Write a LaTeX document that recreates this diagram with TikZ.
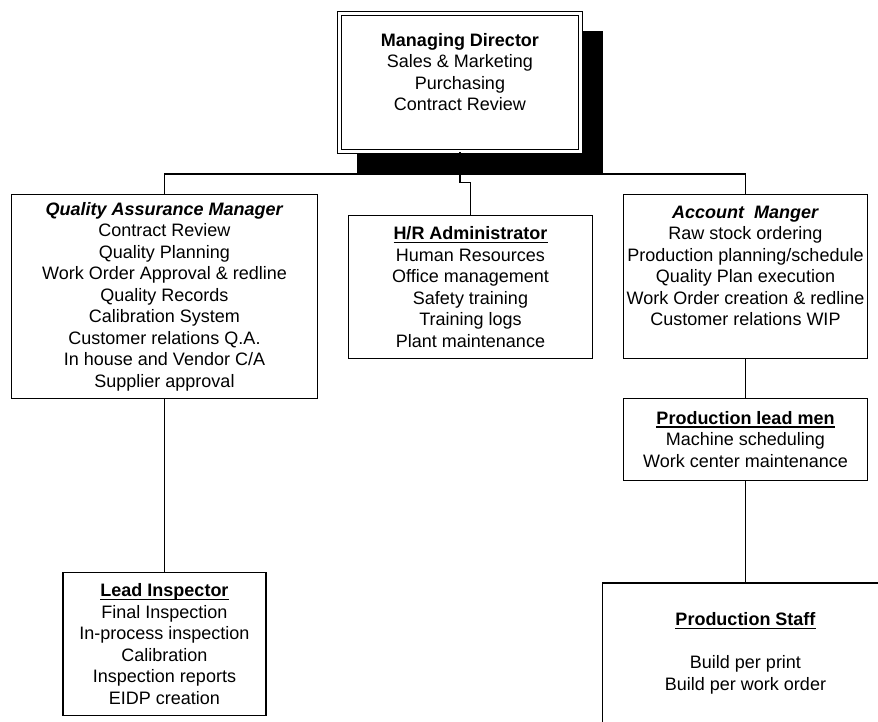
\documentclass[tikz,border=0pt]{standalone}
\usepackage{fontspec}
\setmainfont{Liberation Sans}
\usetikzlibrary{backgrounds}
\newsavebox{\ulbox}
\newcommand{\uln}[1]{\sbox{\ulbox}{#1}\rlap{\rule[-3.2pt]{\wd\ulbox}{1.3pt}}\usebox{\ulbox}}

\begin{document}
\begin{tikzpicture}[x=1pt,y=-1pt,
        box/.style={draw, fill=white, line width=1.3pt, align=center, inner sep=0pt,
            font=\fontsize{18}{21.5}\selectfont},
        link/.style={line width=1.3pt}]
        \clip (0,0) rectangle (878,721);

        % Boxes
        \node[box, double, double distance=2.4pt, minimum width=241pt, minimum height=138pt] (md) at (460,82.5)
            {\textbf{Managing Director}\\Sales \& Marketing\\Purchasing\\Contract Review\\\mbox{}};
        \node[box, minimum width=306pt, minimum height=204pt] (qa) at (164.5,296.5)
            {\textbf{\textit{Quality Assurance Manager}}\\Contract Review\\Quality Planning\\Work Order Approval \& redline\\Quality Records\\Calibration System\\Customer relations Q.A.\\In house and Vendor C/A\\Supplier approval};
        \node[box, minimum width=244pt, minimum height=143pt] (hr) at (470.5,287)
            {\uln{\textbf{H/R Administrator}}\\Human Resources\\Office management\\Safety training\\Training logs\\Plant maintenance};
        \node[box, minimum width=244pt, minimum height=164pt] (am) at (745.5,276.5)
            {\textbf{\textit{Account\ \ Manger}}\\Raw stock ordering\\Production planning/schedule\\Quality Plan execution\\Work Order creation \& redline\\Customer relations WIP\\\mbox{}};
        \node[box, minimum width=244pt, minimum height=82pt] (plm) at (745.5,439.5)
            {\uln{\textbf{Production lead men}}\\Machine scheduling\\Work center maintenance};
        \node[box, minimum width=203pt, minimum height=143pt] (li) at (164.5,644)
            {\uln{\textbf{Lead Inspector}}\\Final Inspection\\In-process inspection\\Calibration\\Inspection reports\\EIDP creation};
        \node[box, minimum width=286pt, minimum height=141pt] (ps) at (745.5,653.5)
            {\uln{\textbf{Production Staff}}\\[21.5pt]Build per print\\Build per work order};

        % Shadow of the top box
        \begin{scope}[on background layer]
            \fill[black] ([shift={(18,18)}]md.north west) rectangle ([shift={(22,22)}]md.south east);
        \end{scope}

        % Connectors
        \coordinate (bus) at (0,174);
        \draw[link] (qa.north) -- (qa.north |- bus) -- (am.north |- bus) -- (am.north);
        \draw[link] (md.south) -- ++(0,30) -| (hr.north);
        \draw[link] (qa.south) -- (li.north);
        \draw[link] (am.south) -- (plm.north);
        \draw[link] (plm.south) -- (ps.north);

\end{tikzpicture}
\end{document}
